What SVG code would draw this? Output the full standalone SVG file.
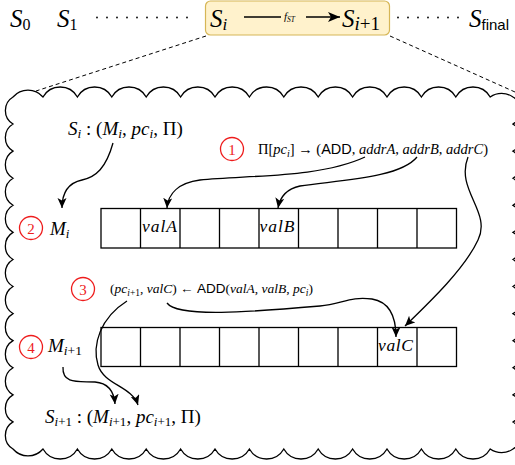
<svg xmlns="http://www.w3.org/2000/svg" width="515" height="465" viewBox="0 0 515 465">
<style>
.m{font-family:"Liberation Serif",serif;font-style:italic;fill:#000}
.u{font-style:normal}
.sf{font-family:"Liberation Sans",sans-serif;font-style:normal}
.red{fill:none;stroke:#ee1c1c;stroke-width:1.3}
.num{font-family:"Liberation Serif",serif;font-size:15px;fill:#ee1c1c;text-anchor:middle}
.cell{fill:#fff;stroke:#000;stroke-width:1.3}
.conn{fill:none;stroke:#000;stroke-width:1.3;marker-end:url(#ah)}
.dash{fill:none;stroke:#000;stroke-width:1;stroke-dasharray:4 3}
.dots{stroke:#000;stroke-width:1.8;stroke-linecap:round;stroke-dasharray:0 10}
</style>
<defs>
<marker id="ah" markerUnits="userSpaceOnUse" markerWidth="11" markerHeight="10" refX="10" refY="4.5" orient="auto" viewBox="0 0 11 10">
<path d="M0,0 L10,4.5 L0,9 L2.5,4.5 z" fill="#000"/>
</marker>
<marker id="ah2" markerUnits="userSpaceOnUse" markerWidth="13" markerHeight="11" refX="12" refY="5" orient="auto" viewBox="0 0 13 11">
<path d="M0,0 L12,5 L0,10 L3,5 z" fill="#000"/>
</marker>
</defs>

<g id="chain">
<text class="m" x="10" y="27" font-size="25">S<tspan class="u" font-size="16" dy="3">0</tspan></text>
<text class="m" x="57" y="27" font-size="25">S<tspan class="u" font-size="16" dy="3">1</tspan></text>
<line class="dots" x1="97" y1="17.5" x2="188" y2="17.5"/>
<line class="dots" x1="398" y1="17.5" x2="459" y2="17.5"/>
<text class="m" x="469" y="27" font-size="25">S<tspan class="sf" font-size="15" dy="3">final</tspan></text>
</g>

<g id="step">
<rect x="205.5" y="1" width="184" height="34" rx="5" fill="#fff2cc" stroke="#d6b656" stroke-width="1.2"/>
<text class="m" x="210" y="27" font-size="25">S<tspan font-size="17" dy="3">i</tspan></text>
<text class="m" x="342" y="27" font-size="25">S<tspan font-size="19" dy="3">i</tspan><tspan class="u" font-size="19">+1</tspan></text>
<line x1="244" y1="17" x2="281" y2="17" stroke="#000" stroke-width="1.3"/>
<line x1="306" y1="17" x2="340" y2="17" stroke="#000" stroke-width="1.3" marker-end="url(#ah2)"/>
<text class="m" x="284" y="20" font-size="11">f<tspan font-size="7.5" dy="1.5">ST</tspan></text>
</g>

<g id="zoomlines">
<path class="dash" d="M206,36 L36,91"/>
<path class="dash" d="M390,36 L515,92"/>
</g>

<g id="cloud">
<path fill="#fff" stroke="#000" stroke-width="1.3" d="M13,97 a19.8,19.8 0 0 1 30,0 a19.8,19.8 0 0 1 34.4,0 a19.8,19.8 0 0 1 34.4,0 a19.8,19.8 0 0 1 34.4,0 a19.8,19.8 0 0 1 34.4,0 a19.8,19.8 0 0 1 34.4,0 a19.8,19.8 0 0 1 34.4,0 a19.8,19.8 0 0 1 34.4,0 a19.8,19.8 0 0 1 34.4,0 a19.8,19.8 0 0 1 34.4,0 a19.8,19.8 0 0 1 34.4,0 a19.8,19.8 0 0 1 34.4,0 a19.8,19.8 0 0 1 34.4,0 a19.8,19.8 0 0 1 34.4,0 a19.8,19.8 0 0 1 22.8,0
a15.8,15.8 0 0 1 0,27.08 a15.8,15.8 0 0 1 0,27.08 a15.8,15.8 0 0 1 0,27.08 a15.8,15.8 0 0 1 0,27.08 a15.8,15.8 0 0 1 0,27.08 a15.8,15.8 0 0 1 0,27.08 a15.8,15.8 0 0 1 0,27.08 a15.8,15.8 0 0 1 0,27.08 a15.8,15.8 0 0 1 0,27.08 a15.8,15.8 0 0 1 0,27.08 a15.8,15.8 0 0 1 0,27.08 a15.8,15.8 0 0 1 0,27.08 a15.8,15.8 0 0 1 0,27.04
a19.8,19.8 0 0 1 -22.8,0 a19.8,19.8 0 0 1 -34.4,0 a19.8,19.8 0 0 1 -34.4,0 a19.8,19.8 0 0 1 -34.4,0 a19.8,19.8 0 0 1 -34.4,0 a19.8,19.8 0 0 1 -34.4,0 a19.8,19.8 0 0 1 -34.4,0 a19.8,19.8 0 0 1 -34.4,0 a19.8,19.8 0 0 1 -34.4,0 a19.8,19.8 0 0 1 -34.4,0 a19.8,19.8 0 0 1 -34.4,0 a19.8,19.8 0 0 1 -34.4,0 a19.8,19.8 0 0 1 -34.4,0 a19.8,19.8 0 0 1 -34.4,0 a19.8,19.8 0 0 1 -30,0
a15.8,15.8 0 0 1 0,-27.08 a15.8,15.8 0 0 1 0,-27.08 a15.8,15.8 0 0 1 0,-27.08 a15.8,15.8 0 0 1 0,-27.08 a15.8,15.8 0 0 1 0,-27.08 a15.8,15.8 0 0 1 0,-27.08 a15.8,15.8 0 0 1 0,-27.08 a15.8,15.8 0 0 1 0,-27.08 a15.8,15.8 0 0 1 0,-27.08 a15.8,15.8 0 0 1 0,-27.08 a15.8,15.8 0 0 1 0,-27.08 a15.8,15.8 0 0 1 0,-27.08 a15.8,15.8 0 0 1 0,-27.04 Z"/>
</g>

<g id="state-i">
<text class="m" x="68" y="135" font-size="19">S<tspan font-size="13.5" dy="3">i</tspan><tspan class="u" dy="-3"> : (</tspan>M<tspan font-size="13.5" dy="3">i</tspan><tspan class="u" dy="-3">, </tspan>pc<tspan font-size="13.5" dy="3">i</tspan><tspan class="u" dy="-3">, Π)</tspan></text>
</g>

<g id="step1">
<circle class="red" cx="232" cy="149" r="11.5"/>
<text class="num" x="232" y="154.5">1</text>
<text class="m" x="258" y="154" font-size="14.5"><tspan class="u">Π[</tspan>pc<tspan font-size="10" dy="2.5">i</tspan><tspan class="u" dy="-2.5">] → (</tspan><tspan class="sf">ADD</tspan><tspan class="u">, </tspan>addrA<tspan class="u">, </tspan>addrB<tspan class="u">, </tspan>addrC<tspan class="u">)</tspan></text>
</g>

<g id="step2">
<circle class="red" cx="31" cy="228" r="11.5"/>
<text class="num" x="31" y="233.5">2</text>
<text class="m" x="50" y="235" font-size="19">M<tspan font-size="13" dy="3">i</tspan></text>
</g>

<g id="memory-i">
<rect class="cell" x="101" y="208.5" width="355.5" height="39.5"/>
<path stroke="#000" stroke-width="1.3" d="M140.5,208.5V248M180,208.5V248M219.5,208.5V248M259,208.5V248M298.5,208.5V248M338,208.5V248M377.5,208.5V248M417,208.5V248"/>
<text class="m" x="142" y="232" font-size="17.5" textLength="35">valA</text>
<text class="m" x="259.5" y="232" font-size="17.5" textLength="35">valB</text>
</g>

<g id="step3">
<circle class="red" cx="83" cy="289" r="11.5"/>
<text class="num" x="83" y="294.5">3</text>
<text class="m" x="110" y="293" font-size="13.5"><tspan class="u">(</tspan>pc<tspan font-size="9.5" dy="2.5">i</tspan><tspan class="u" font-size="9.5">+1</tspan><tspan class="u" dy="-2.5">, </tspan>valC<tspan class="u">) ← </tspan><tspan class="sf">ADD</tspan><tspan class="u">(</tspan>valA<tspan class="u">, </tspan>valB<tspan class="u">, </tspan>pc<tspan font-size="9.5" dy="2.5">i</tspan><tspan class="u" dy="-2.5">)</tspan></text>
</g>

<g id="memory-i1">
<rect class="cell" x="101" y="327.5" width="355.5" height="39"/>
<path stroke="#000" stroke-width="1.3" d="M140.5,327.5V366.5M180,327.5V366.5M219.5,327.5V366.5M259,327.5V366.5M298.5,327.5V366.5M338,327.5V366.5M377.5,327.5V366.5M417,327.5V366.5"/>
<text class="m" x="378" y="351" font-size="17.5" textLength="35">valC</text>
</g>

<g id="step4">
<circle class="red" cx="31" cy="347" r="11.5"/>
<text class="num" x="31" y="352.5">4</text>
<text class="m" x="48" y="352" font-size="19">M<tspan font-size="13.5" dy="3">i</tspan><tspan class="u" font-size="13.5">+1</tspan></text>
</g>

<g id="state-i1">
<text class="m" x="45" y="423" font-size="19">S<tspan font-size="13" dy="3">i</tspan><tspan class="u" font-size="13">+1</tspan><tspan class="u" dy="-3"> : (</tspan>M<tspan font-size="13" dy="3">i</tspan><tspan class="u" font-size="13">+1</tspan><tspan class="u" dy="-3">, </tspan>pc<tspan font-size="13" dy="3">i</tspan><tspan class="u" font-size="13">+1</tspan><tspan class="u" dy="-3">, Π)</tspan></text>
</g>

<g id="connectors">
<path class="conn" d="M113,143 C106,168 96,177 82,180 C68,183 62,192 62,208"/>
<path class="conn" d="M365,157 C320,178 250,175 200,180 C178,183 168,194 167,208"/>
<path class="conn" d="M417,157 C400,178 340,180 300,186 C286,189 280,197 278,208"/>
<path class="conn" d="M468,157 C455,190 492,212 478,240 C465,268 432,300 405,326"/>
<path class="conn" d="M167,303 C178,318 250,312 320,306 C342,304 350,296 372,299 C390,302 396,318 396,337"/>
<path class="conn" d="M127,301 C100,318 92,345 98,365 C104,385 132,386 138,405"/>
<path class="conn" d="M63,367 C62,385 80,381 95,382 C108,383 114,392 115,404"/>
</g>
</svg>
